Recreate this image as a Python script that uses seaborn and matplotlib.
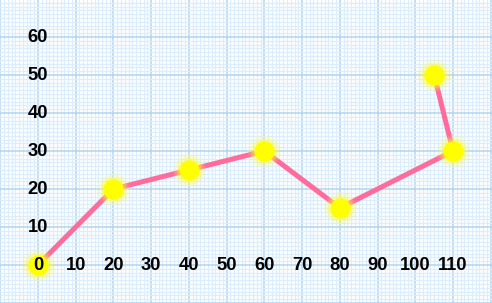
import matplotlib
matplotlib.use("Agg")
import matplotlib.pyplot as plt
import seaborn as sns
import numpy as np
import pandas as pd

# data
x_vals = [0, 20, 40, 60, 80, 110, 105]
y_vals = [0, 20, 25, 30, 15, 30, 50]
x_tick_labels = [0, 10, 20, 30, 40, 50, 60, 70, 80, 90, 100, 110]
y_tick_labels = [10, 20, 30, 40, 50, 60]

df = pd.DataFrame({"x": x_vals, "y": y_vals, "order": range(len(x_vals))})

sns.set_theme(style="white")
plt.rcParams['font.family'] = ['Liberation Sans', 'DejaVu Sans']

fig = plt.figure(figsize=(4.92, 3.03), dpi=100)
ax = fig.add_axes([0, 0, 1, 1])
ax.set_xlim(-10.07, 120.34)
ax.set_ylim(-10.0, 69.74)

# graph paper grid
ax.set_xticks(np.arange(-10, 121, 10))
ax.set_yticks(np.arange(-10, 70, 10))
ax.set_xticks(np.arange(-10, 121, 1), minor=True)
ax.set_yticks(np.arange(-10, 70, 1), minor=True)
ax.grid(which="minor", color="#dcedfc", linewidth=0.9, zorder=0)
ax.grid(which="major", color="#b3d4f0", linewidth=1.1, zorder=0)
ax.set_axisbelow(True)
ax.tick_params(which="both", length=0, labelbottom=False, labelleft=False)
for s in ax.spines.values():
    s.set_visible(False)

# line
sns.lineplot(data=df, x="x", y="y", sort=False, color="#ff6b9b", linewidth=3.6,
             ax=ax, zorder=3, legend=False)

# glow layers
for size, alpha in [(560, 0.12), (440, 0.18), (330, 0.28)]:
    sns.scatterplot(data=df, x="x", y="y", s=size, color="#ffff40", alpha=alpha,
                    linewidth=0, ax=ax, zorder=4, legend=False)
sns.scatterplot(data=df, x="x", y="y", s=215, color="#ffff00", linewidth=0,
                ax=ax, zorder=5, legend=False)

ax.set_xlabel("")
ax.set_ylabel("")

# tick labels on the axes
for v in x_tick_labels:
    ax.text(v, 0, str(v), ha="center", va="center", fontsize=13.2,
            fontweight="bold", color="black", zorder=6)
for v in y_tick_labels:
    ax.text(0, v, str(v), ha="center", va="center", fontsize=13.2,
            fontweight="bold", color="black", zorder=6)

fig.savefig("out.png", dpi=100)
